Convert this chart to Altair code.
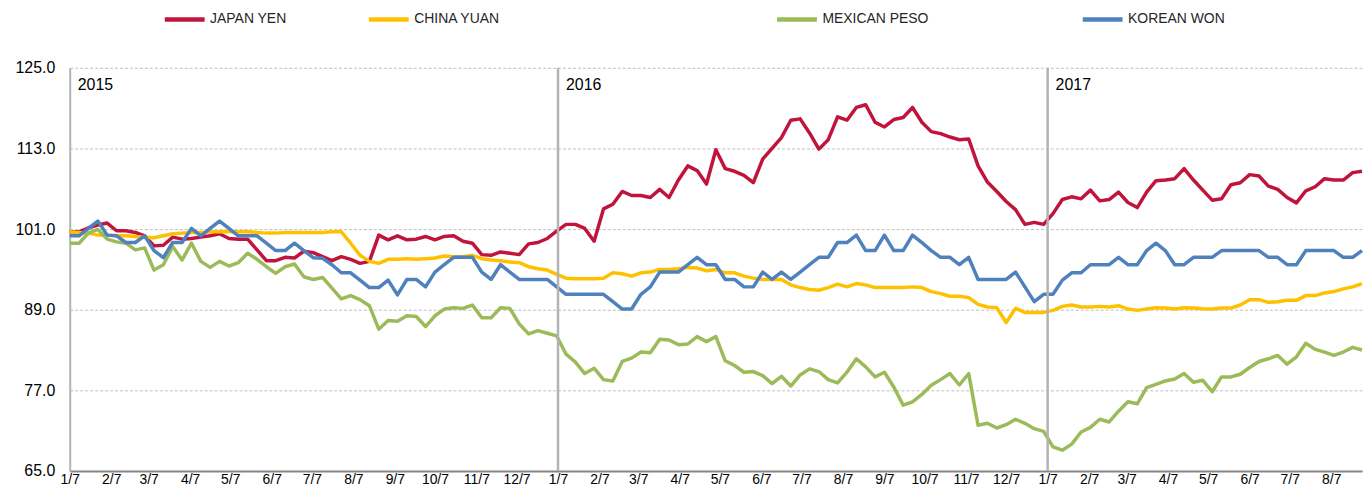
import altair as alt
import pandas as pd

series_names = ["JAPAN YEN", "CHINA YUAN", "MEXICAN PESO", "KOREAN WON"]
series_colors = ["#C0143C", "#FFC000", "#9BBB59", "#4F81BD"]
legend_offsets = [93, 298, 708, 1015]

japan_yen = [
    100.6, 100.6, 101.2, 101.6, 101.9, 100.75, 100.75, 100.5, 100.0, 98.5, 98.6, 99.8, 99.5, 99.6, 99.8, 100.0, 100.3, 99.6,
    99.5, 99.5, 97.9, 96.3, 96.3, 96.8, 96.7, 97.7, 97.5, 96.9, 96.3, 96.9, 96.5, 95.9, 96.2, 100.1, 99.4, 100.0,
    99.4, 99.5, 99.9, 99.4, 99.9, 100.0, 99.2, 98.9, 97.2, 97.1, 97.6, 97.4, 97.2, 98.8, 99.0, 99.6, 100.7, 101.7,
    101.7, 101.1, 99.2, 104.0, 104.7, 106.6, 106.0, 106.0, 105.7, 106.9, 105.7, 108.3, 110.4, 109.7, 107.7, 112.8, 110.0,
    109.6, 109.0, 107.9, 111.4, 113.0, 114.6, 117.2, 117.4, 115.3, 112.9, 114.3, 117.7, 117.2, 119.1, 119.5, 116.9, 116.2,
    117.3, 117.6, 119.1, 116.9, 115.5, 115.2, 114.7, 114.3, 114.4, 110.4, 108.0, 106.6, 105.1, 103.9, 101.7, 102.0, 101.7, 103.3,
    105.4, 105.8, 105.5, 106.8, 105.2, 105.4, 106.5, 104.95, 104.2, 106.5, 108.2, 108.3, 108.5, 110.0, 108.3, 106.8, 105.3,
    105.5, 107.6, 107.9, 109.1, 108.9, 107.4, 106.9, 105.7, 104.9, 106.7, 107.3, 108.5, 108.3, 108.3, 109.4, 109.6,
]
china_yuan = [
    100.6, 100.5, 100.4, 100.1, 100.1, 100.0, 100.0, 99.9, 99.8, 99.7, 100.0, 100.3, 100.4, 100.5, 100.5, 100.6, 100.6, 100.6,
    100.6, 100.6, 100.5, 100.4, 100.4, 100.5, 100.5, 100.5, 100.5, 100.5, 100.6, 100.6, 98.9, 97.1, 96.2, 95.9, 96.5, 96.5,
    96.6, 96.5, 96.6, 96.7, 97.0, 96.9, 96.9, 97.1, 96.6, 96.4, 96.3, 96.1, 96.0, 95.4, 95.1, 94.9, 94.25, 93.7,
    93.6, 93.6, 93.6, 93.7, 94.5, 94.35, 94.0, 94.5, 94.6, 95.0, 95.0, 95.1, 95.3, 95.2, 94.8, 95.0, 94.5,
    94.5, 94.0, 93.7, 93.5, 93.5, 93.5, 92.7, 92.3, 92.0, 91.9, 92.3, 92.8, 92.4, 92.9, 92.7, 92.3, 92.3,
    92.3, 92.3, 92.4, 92.3, 91.7, 91.4, 91.0, 91.0, 90.8, 89.8, 89.4, 89.3, 87.1, 89.2, 88.6, 88.6, 88.6, 88.9,
    89.5, 89.7, 89.4, 89.4, 89.5, 89.4, 89.6, 89.1, 88.9, 89.1, 89.3, 89.25, 89.1, 89.3, 89.25, 89.15, 89.1,
    89.25, 89.25, 89.7, 90.5, 90.5, 90.1, 90.2, 90.4, 90.4, 91.1, 91.1, 91.5, 91.7, 92.1, 92.4, 92.9,
]
mexican_peso = [
    98.9, 98.9, 100.4, 100.95, 99.5, 99.1, 98.9, 97.9, 98.2, 94.9, 95.7, 98.4, 96.4, 98.9, 96.2, 95.3, 96.2, 95.5,
    96.0, 97.4, 96.5, 95.4, 94.4, 95.4, 95.8, 93.9, 93.5, 93.8, 92.2, 90.6, 91.1, 90.5, 89.6, 86.1, 87.4, 87.3,
    88.1, 88.0, 86.5, 88.1, 89.1, 89.3, 89.2, 89.7, 87.8, 87.8, 89.3, 89.2, 86.9, 85.4, 85.9, 85.5, 85.1, 82.4,
    81.2, 79.5, 80.3, 78.6, 78.4, 81.3, 81.8, 82.7, 82.6, 84.6, 84.5, 83.8, 83.9, 85.0, 84.25, 85.0, 81.4,
    80.7, 79.7, 79.8, 79.2, 78.0, 79.1, 77.65, 79.3, 80.2, 79.8, 78.6, 78.1, 79.7, 81.7, 80.5, 79.0, 79.7,
    77.5, 74.8, 75.3, 76.4, 77.75, 78.6, 79.5, 77.8, 79.5, 71.8, 72.1, 71.4, 71.9, 72.7, 72.1, 71.3, 70.9, 68.6,
    68.1, 69.0, 70.8, 71.5, 72.7, 72.3, 73.9, 75.3, 75.0, 77.4, 77.9, 78.4, 78.7, 79.5, 78.2, 78.5, 76.8,
    79.0, 79.0, 79.4, 80.4, 81.3, 81.7, 82.2, 80.9, 82.0, 84.0, 83.1, 82.7, 82.2, 82.7, 83.4, 83.0,
]
korean_won = [
    100.0, 100.0, 101.1, 102.2, 100.1, 100.0, 99.0, 99.0, 100.0, 97.8, 96.75, 99.0, 99.0, 101.1, 100.0, 101.1, 102.2, 101.1,
    100.0, 100.0, 100.0, 98.9, 97.8, 97.8, 98.9, 97.8, 96.75, 96.65, 95.7, 94.5, 94.5, 93.4, 92.3, 92.3, 93.4, 91.2,
    93.5, 93.5, 92.4, 94.6, 95.7, 96.8, 96.8, 96.8, 94.6, 93.5, 95.7, 94.6, 93.5, 93.5, 93.5, 93.5, 92.4, 91.3,
    91.3, 91.3, 91.3, 91.3, 90.2, 89.1, 89.1, 91.3, 92.4, 94.6, 94.6, 94.6, 95.7, 96.8, 95.7, 95.7, 93.5,
    93.5, 92.4, 92.4, 94.6, 93.5, 94.6, 93.5, 94.6, 95.7, 96.8, 96.8, 99.0, 99.0, 100.1, 97.8, 97.8, 100.1,
    97.8, 97.8, 100.1, 99.0, 97.8, 96.8, 96.8, 95.7, 96.8, 93.5, 93.5, 93.5, 93.5, 94.6, 92.4, 90.2, 91.3, 91.3,
    93.4, 94.5, 94.5, 95.7, 95.7, 95.7, 96.8, 95.7, 95.7, 97.8, 98.9, 97.8, 95.7, 95.7, 96.8, 96.8, 96.8,
    97.8, 97.8, 97.8, 97.8, 97.8, 96.8, 96.8, 95.7, 95.7, 97.8, 97.8, 97.8, 97.8, 96.8, 96.8, 97.8,
]

year_labels = ["2015", "2016", "2017"]
year_starts = ["2015/01/07", "2016/01/07", "2017/01/07"]
y_ticks = [65, 77, 89, 101, 113, 125]

all_series = [japan_yen, china_yuan, mexican_peso, korean_won]
n = min(len(s) for s in all_series)
start = pd.Timestamp("2015-01-07")
dates = [(start + pd.Timedelta(weeks=i)).strftime("%Y/%m/%d") for i in range(n)]

rows = []
for name, vals in zip(series_names, all_series):
    for d, v in zip(dates, vals[:n]):
        rows.append({"date": d, "series": name, "value": v})
df = pd.DataFrame(rows)

tick_dates = []
for y in (2015, 2016, 2017):
    for m in range(1, 13):
        if y == 2017 and m > 8:
            break
        tick_dates.append(alt.DateTime(year=y, month=m, date=7))

x_enc = alt.X(
    "date:T",
    title=None,
    scale=alt.Scale(nice=False),
    axis=alt.Axis(
        values=tick_dates,
        format="%-m/%-d",
        grid=False,
        ticks=False,
        tickSize=0,
        labelPadding=2,
        labelFont="Liberation Sans Narrow, Arial Narrow, Liberation Sans, sans-serif",
        labelFontSize=14,
        labelColor="#000000",
        labelAngle=0,
        labelAlign="center",
        labelOverlap=False,
        domainColor="#868686",
        domainWidth=2,
    ),
)
y_enc = alt.Y(
    "value:Q",
    title=None,
    scale=alt.Scale(domain=[65, 125], nice=False, zero=False),
    axis=alt.Axis(
        values=y_ticks,
        format=".1f",
        ticks=False,
        tickSize=0,
        labelPadding=15,
        labelFont="Liberation Sans, Arial, sans-serif",
        labelFontSize=16,
        labelColor="#000000",
        grid=True,
        gridColor="#BFBFBF",
        gridDash=[3, 2],
        gridWidth=1,
        domainColor="#B3B3B3",
        domainWidth=2,
    ),
)

year_df = pd.DataFrame({"date": year_starts, "label": year_labels})
year_rules = (
    alt.Chart(year_df)
    .transform_filter(alt.datum.label != "2015")
    .mark_rule(color="#B3B3B3", strokeWidth=2.5)
    .encode(x=alt.X("date:T"))
)
year_text = (
    alt.Chart(year_df)
    .mark_text(align="left", baseline="middle", dx=8, fontSize=16,
               font="Liberation Sans, Arial, sans-serif", color="#000000")
    .encode(x=alt.X("date:T"), y=alt.value(17), text="label:N")
)

line_layers = []
for name, color, lx in zip(series_names, series_colors, legend_offsets):
    layer = (
        alt.Chart(df)
        .transform_filter(alt.datum.series == name)
        .mark_line(strokeWidth=3.5, strokeJoin="round")
        .encode(
            x=x_enc,
            y=y_enc,
            color=alt.Color(
                "series:N",
                scale=alt.Scale(domain=[name], range=[color]),
                legend=alt.Legend(
                    orient="none",
                    legendX=lx,
                    legendY=-71,
                    title=None,
                    direction="horizontal",
                    symbolType="stroke",
                    symbolSize=1600,
                    symbolStrokeWidth=4.5,
                    labelFont="Liberation Sans Narrow, Arial Narrow, Liberation Sans, sans-serif",
                    labelFontSize=14,
                    labelColor="#262626",
                    labelOffset=3,
                    padding=0,
                ),
            ),
        )
    )
    line_layers.append(layer)

chart = (
    alt.layer(*line_layers, year_rules, year_text)
    .resolve_scale(color="independent")
    .properties(
        width=1298,
        height=405,
        autosize=alt.AutoSizeParams(type="none"),
        padding={"left": 62, "top": 59, "right": 2, "bottom": 16},
    )
    .configure_view(stroke=None)
)

chart.save("out.html", embed_options={"renderer": "svg", "actions": False})
